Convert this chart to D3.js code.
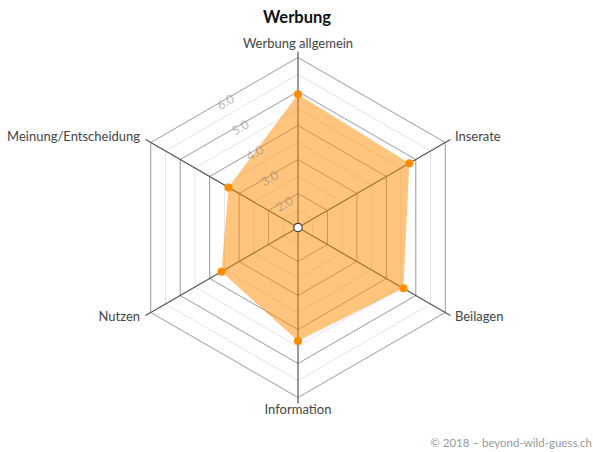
<!DOCTYPE html>
<html><head><meta charset="utf-8">
<script src="https://cdn.jsdelivr.net/npm/d3@7"></script>
<style>body{margin:0;background:#fff}svg{display:block;font-family:Lato,"Open Sans",sans-serif}</style>
</head><body><svg id="chart" width="593" height="452"></svg>
<script>
const categories = ["Werbung allgemein","Inserate","Beilagen","Information","Nutzen","Meinung/Entscheidung"];
const values = [4.92, 4.78, 4.58, 4.34, 3.60, 3.36];
const tickValues = [2, 3, 4, 5, 6];
const tickLabels = ["2.0", "3.0", "4.0", "5.0", "6.0"];
const minorValues = [1.5, 2.5, 3.5, 4.5, 5.5];
const title = "Werbung";
const credit = "© 2018 – beyond-wild-guess.ch";

const svg = d3.select("#chart");
const cx = 298, cy = 227.5, R = 170;
const r = d3.scaleLinear().domain([1, 6]).range([0, R]);
const n = categories.length;
const ang = i => (-90 + 360 / n * i) * Math.PI / 180;
const pt = (i, rad) => [cx + rad * Math.cos(ang(i)), cy + rad * Math.sin(ang(i))];
const ring = v => d3.range(n).map(i => pt(i, r(v)));
const line = d3.line().curve(d3.curveLinearClosed);

const g = svg.append("g");
g.selectAll(".minor").data(minorValues).join("path")
  .attr("d", v => line(ring(v))).attr("fill", "none").attr("stroke", "#e4e4e4").attr("stroke-width", 1);
g.selectAll(".major").data(tickValues).join("path")
  .attr("d", v => line(ring(v))).attr("fill", "none").attr("stroke", "#9a9a9a").attr("stroke-width", 1);
g.selectAll(".axis").data(categories).join("line")
  .attr("x1", cx).attr("y1", cy)
  .attr("x2", (d, i) => pt(i, R + 6)[0]).attr("y2", (d, i) => pt(i, R + 6)[1])
  .attr("stroke", "#555").attr("stroke-width", 1.2);

g.append("path").attr("d", line(values.map((v, i) => pt(i, r(v)))))
  .attr("fill", "#ff8c00").attr("fill-opacity", 0.5).attr("stroke", "none");
g.selectAll(".dot").data(values).join("circle")
  .attr("cx", (v, i) => pt(i, r(v))[0]).attr("cy", (v, i) => pt(i, r(v))[1])
  .attr("r", 4).attr("fill", "#ff8c00");
g.append("circle").attr("cx", cx).attr("cy", cy).attr("r", 4.2)
  .attr("fill", "#fff").attr("stroke", "#444").attr("stroke-width", 1.2);

const ta = 120 * Math.PI / 180;
g.selectAll(".tick").data(tickValues).join("text")
  .attr("transform", v => {
    const d = r(v) * Math.cos(Math.PI / 6) - 3.5;
    const x = cx + d * Math.cos(ta), y = cy - d * Math.sin(ta);
    return `translate(${x},${y}) rotate(-30)`;
  })
  .attr("text-anchor", "middle").attr("dominant-baseline", "middle")
  .attr("font-size", 12.5).attr("fill", "#8a8a8a").attr("fill-opacity", 0.6)
  .text((v, i) => tickLabels[i]);

g.selectAll(".lab").data(categories).join("text")
  .each(function(d, i) {
    const a = ang(i), c = Math.cos(a);
    const t = d3.select(this);
    if (i === 0) { const p = pt(i, 180); t.attr("x", p[0]).attr("y", p[1]).attr("text-anchor", "middle"); }
    else if (i === n / 2) { const p = pt(i, 183); t.attr("x", p[0]).attr("y", p[1]).attr("text-anchor", "middle").attr("dominant-baseline", "middle"); }
    else { const p = pt(i, 180); t.attr("x", p[0] + (c > 0 ? 1 : -2)).attr("y", p[1]).attr("text-anchor", c > 0 ? "start" : "end").attr("dominant-baseline", "middle"); }
  })
  .attr("font-size", 13).attr("fill", "#444").text(d => d);

svg.append("text").attr("x", 297).attr("y", 23).attr("text-anchor", "middle")
  .attr("font-size", 16.5).attr("font-weight", "bold").attr("fill", "#111").text(title);
svg.append("text").attr("x", 592).attr("y", 447).attr("text-anchor", "end")
  .attr("font-size", 11.5).attr("fill", "#999").text(credit);
</script></body></html>
